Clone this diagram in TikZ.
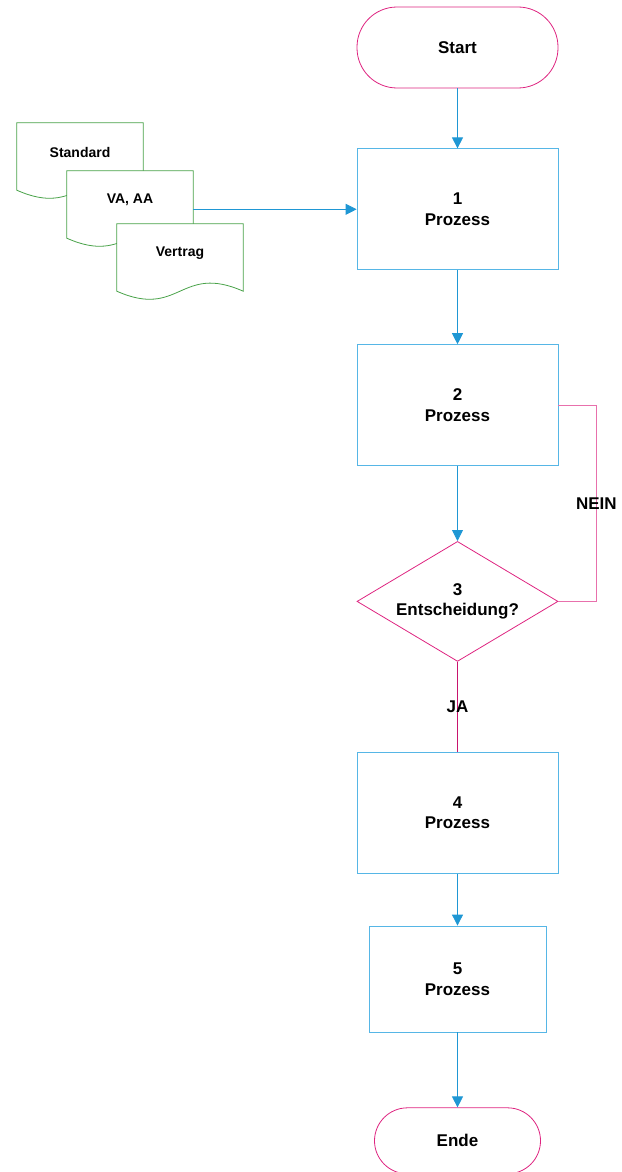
\documentclass[tikz,border=0pt]{standalone}
\usepackage{fontspec}
\setmainfont{Liberation Sans}
\usetikzlibrary{shapes.geometric,arrows.meta,positioning,calc,backgrounds}
\definecolor{flowblue}{RGB}{31,151,212}
\definecolor{boxblue}{RGB}{86,182,230}
\definecolor{termpink}{RGB}{222,36,128}
\definecolor{neinpink}{RGB}{232,112,172}
\definecolor{japink}{RGB}{200,20,110}
\definecolor{docgreen}{RGB}{72,162,72}
\tikzset{
  terminal/.style={rectangle,draw=termpink,rounded corners=40pt,minimum width=201pt,
                   minimum height=81pt,line width=0.8pt,
                   font=\fontsize{17}{20.5}\selectfont\bfseries},
  process/.style ={rectangle,draw=boxblue,minimum width=201pt,minimum height=121pt,
                   align=center,line width=0.8pt,
                   font=\fontsize{17}{20.5}\selectfont\bfseries},
  decision/.style={diamond,draw=termpink,minimum width=201pt,minimum height=120pt,
                   aspect=1.675,inner sep=0pt,align=center,line width=0.8pt,
                   font=\fontsize{17}{20.5}\selectfont\bfseries},
  docbox/.style  ={rectangle,minimum width=126pt,minimum height=58pt,inner sep=0pt,
                   font=\fontsize{14}{17}\selectfont\bfseries},
  docline/.style ={draw=docgreen,fill=white,line width=0.8pt},
  arr/.style     ={-{Triangle[length=11pt,width=11pt]},draw=flowblue,line width=0.8pt},
  neinline/.style={draw=neinpink,line width=0.8pt},
  jaline/.style  ={draw=japink,line width=0.8pt},
  lbl/.style     ={font=\fontsize{17}{20.5}\selectfont\bfseries,inner sep=0pt}
}
% outline of a document symbol round node #1
\newcommand{\docoutline}[1]{%
  \path[docline] (#1.north west) -- ($(#1.south west)+(0,-9)$)
    .. controls ($(#1.south)+(0,-37)$) and ($(#1.south)+(0,19)$) ..
    ($(#1.south east)+(0,-9)$) -- (#1.north east) -- cycle;}

\begin{document}
\begin{tikzpicture}[x=1pt,y=1pt,node distance=60pt]
  \useasboundingbox (0,0) rectangle (621,-1172);

  \node (start) [terminal] at (457.5,-47.5)  {Start};
  \node (p1)    [process, below=of start]     {1\\Prozess};
  \node (p2)    [process, below=74pt of p1]   {2\\Prozess};
  \node (dec)   [decision, below=75pt of p2]  {3\\Entscheidung?};
  \node (p4)    [process, below=90pt of dec]  {4\\Prozess};
  \node (p5)    [process, below=52pt of p4, minimum width=177pt,
                 minimum height=106pt]        {5\\Prozess};
  \node (stop)  [terminal, below=75pt of p5, minimum width=166pt,
                 minimum height=66pt, rounded corners=33pt] {Ende};

  \node (std)     [docbox] at (80,-152)  {Standard};
  \node (vaaa)    [docbox] at (130,-200) {VA, AA};
  \node (vertrag) [docbox] at (180,-253) {Vertrag};
  \begin{scope}[on background layer]
    \docoutline{std}
    \docoutline{vaaa}
    \docoutline{vertrag}
  \end{scope}

  \draw [arr] (start) -- (p1);
  \draw [arr] (p1 -| vaaa.east) -- (p1);
  \draw [arr] (p1) -- (p2);
  \draw [arr] (p2) -- (dec);
  \draw [neinline] (dec.east) -- ++(38,0) |- node[lbl, pos=0.25] {NEIN} (p2.east);
  \draw [jaline] (dec) -- node[lbl] {JA} (p4);
  \draw [arr] (p4) -- (p5);
  \draw [arr] (p5) -- (stop);
\end{tikzpicture}
\end{document}
